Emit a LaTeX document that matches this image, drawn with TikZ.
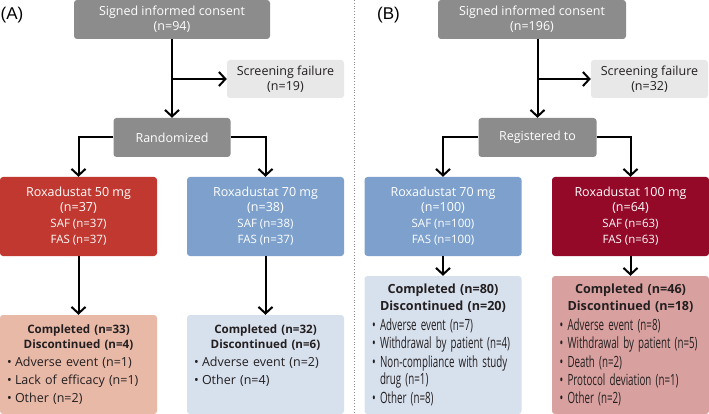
\documentclass[tikz,border=0pt]{standalone}
\usepackage{fontspec}
\setmainfont{Open Sans}
\newfontfamily\panelfont{Liberation Sans}
\newfontfamily\narrowfont[FakeStretch=0.63]{Open Sans}
\usetikzlibrary{arrows.meta}

\definecolor{boxgray}{RGB}{140,140,140}
\definecolor{failgray}{RGB}{232,232,232}
\definecolor{doselow}{RGB}{192,56,48}
\definecolor{dosemid}{RGB}{125,161,204}
\definecolor{dosehigh}{RGB}{148,8,40}
\definecolor{endsalmon}{RGB}{233,185,168}
\definecolor{endblue}{RGB}{215,224,237}
\definecolor{endpink}{RGB}{216,161,159}
\definecolor{darktext}{RGB}{35,31,32}

% header lines and bullet lines of the end boxes
\newcommand\hdlines[3]{{\centering\bfseries\fontsize{#1}{11.5}\selectfont #2\par #3\par}}
\newcommand\bitem[1]{\parindent=0pt\hangindent=8pt\hangafter=1\makebox[8pt][l]{\textbullet}#1\par}
\newcommand\subline[1]{{\fontsize{11.5}{14}\selectfont #1}}

\begin{document}
\begin{tikzpicture}[x=1pt,y=-1pt,
  every node/.style={rounded corners=3pt, inner sep=0pt, align=center, font=\fontsize{12.5}{15}\selectfont},
  graybox/.style={fill=boxgray, text=white},
  failbox/.style={fill=failgray, text=darktext, minimum width=117pt, minimum height=38pt},
  dosebox/.style={text=white, minimum width=157pt, minimum height=79pt},
  endbox/.style={text=darktext, minimum width=157pt, text width=143pt, align=left,
    font=\fontsize{12.5}{15}\selectfont\setlength\parskip{3pt}},
  arr/.style={-{Straight Barb[length=6.5pt,width=14pt,line width=2pt]}, line width=2pt}]
\useasboundingbox (0,0) rectangle (709,414);

% panel labels and divider
\node (labA) at (12,15) [font=\panelfont\fontsize{17}{19}\selectfont] {(A)};
\node (labB) at (388.5,15) [font=\panelfont\fontsize{17}{19}\selectfont] {(B)};
\draw[boxgray, dotted, line width=0.8pt] (354,0) -- (354,414);

% (A)
\node (consA) at (172,19.5) [graybox, minimum width=196pt, minimum height=39pt] {Signed informed consent\\(n=94)};
\node (failA) at (285.5,79) [failbox] {Screening failure\\(n=19)};
\node (randA) at (172,137.5) [graybox, minimum width=117pt, minimum height=39pt] {Randomized};
\node (r50) at (78.5,216.5) [dosebox, fill=doselow] {Roxadustat 50 mg\\(n=37)\\[1pt]\subline{SAF (n=37)}\\[1pt]\subline{FAS (n=37)}};
\node (r70A) at (265.5,216.5) [dosebox, fill=dosemid] {Roxadustat 70 mg\\(n=38)\\[1pt]\subline{SAF (n=38)}\\[1pt]\subline{FAS (n=37)}};
\node (endA1) at (78.5,364.5) [endbox, fill=endsalmon, minimum height=99pt]
  {\hdlines{11.6}{Completed (n=33)}{Discontinued (n=4)}\bitem{Adverse event (n=1)}\bitem{Lack of efficacy (n=1)}\bitem{Other (n=2)}};
\node (endA2) at (265.5,364.5) [endbox, fill=endblue, minimum height=99pt]
  {\hdlines{11.6}{Completed (n=32)}{Discontinued (n=6)}\bitem{Adverse event (n=2)}\bitem{Other (n=4)}\vspace{18pt}};
\coordinate (brA) at (172,79);

% (B)
\node (consB) at (532,19.5) [graybox, minimum width=188pt, minimum height=39pt] {Signed informed consent\\(n=196)};
\node (failB) at (649.5,79) [failbox] {Screening failure\\(n=32)};
\node (regB) at (537.5,137.5) [graybox, minimum width=118pt, minimum height=39pt] {Registered to};
\node (r70B) at (443,216.5) [dosebox, fill=dosemid] {Roxadustat 70 mg\\(n=100)\\[1pt]\subline{SAF (n=100)}\\[1pt]\subline{FAS (n=100)}};
\node (r100) at (630.5,216.5) [dosebox, fill=dosehigh] {Roxadustat 100 mg\\(n=64)\\[1pt]\subline{SAF (n=63)}\\[1pt]\subline{FAS (n=63)}};
\node (endB1) at (443,345) [endbox, fill=endblue, minimum height=138pt, text width=142pt]
  {\hdlines{12.6}{Completed (n=80)}{Discontinued (n=20)}\vspace{2pt}\narrowfont\fontsize{15.5}{15}\selectfont\bitem{Adverse event (n=7)}\bitem{Withdrawal by patient (n=4)}\bitem{Non-compliance with study\newline drug (n=1)}\bitem{Other (n=8)}};
\node (endB2) at (630.5,345) [endbox, fill=endpink, minimum height=138pt, text width=142pt]
  {\hdlines{12.6}{Completed (n=46)}{Discontinued (n=18)}\vspace{2pt}\narrowfont\fontsize{15.5}{15}\selectfont\bitem{Adverse event (n=8)}\bitem{Withdrawal by patient (n=5)}\bitem{Death (n=2)}\bitem{Protocol deviation (n=1)}\bitem{Other (n=2)}};
\coordinate (brB) at (537.5,79);
\coordinate (topB) at (537.5,39);

% connectors
\foreach \source/\dest in {consA/randA, r50/endA1, r70A/endA2, topB/regB, r70B/endB1, r100/endB2, brA/failA, brB/failB}
  \draw[arr] (\source) -- (\dest);
\foreach \source/\dest in {randA/r50, randA/r70A, regB/r70B, regB/r100}
  \draw[arr] (\source) -| (\dest);
\end{tikzpicture}
\end{document}
